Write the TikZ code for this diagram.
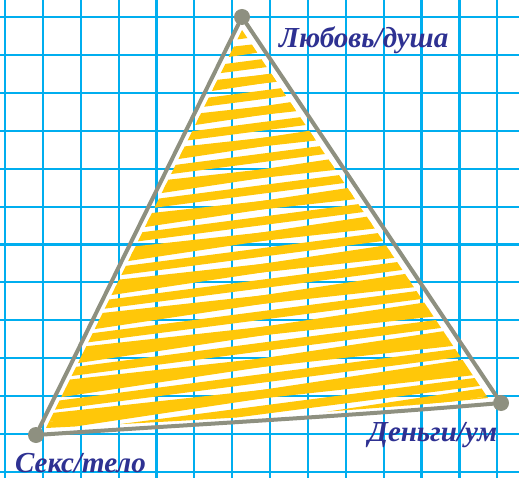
\documentclass[tikz,border=0pt]{standalone}
\usepackage{fontspec}
\setmainfont{Liberation Serif}
\definecolor{gridc}{HTML}{00AEEF}
\definecolor{edgec}{HTML}{8E9080}
\definecolor{hatchc}{HTML}{FFC709}
\definecolor{labc}{HTML}{2E3192}
\tikzset{
  gridline/.style={gridc, line width=2.2pt},
  hatchline/.style={hatchc, line width=8.5pt, line cap=round},
  edge/.style={edgec, line width=4pt, line cap=round, line join=round},
  vdot/.style={circle, fill=edgec, inner sep=0pt, minimum size=16pt},
  lab/.style={text=labc, font=\fontsize{29}{33}\selectfont\bfseries\itshape, inner sep=0pt}
}
\begin{document}
\begin{tikzpicture}[x=1pt,y=-1pt]
\useasboundingbox (0,0) rectangle (519,478);
\fill[white] (0,0) rectangle (519,478);
\foreach \i in {0,...,13} \draw[gridline] ({5+37.87*\i},0) -- ({5+37.87*\i},478);
\foreach \i in {0,...,12} \draw[gridline] (0,{17.3+37.87*\i}) -- (519,{17.3+37.87*\i});
\coordinate (pA) at (242,17);
\coordinate (pB) at (36,435);
\coordinate (pC) at (501,403);
\begin{scope}
  \clip (242,30) -- (46,428) .. controls (200,420) and (350,412) .. (488,398) -- cycle;
  \foreach \k in {0,...,44} {
    \pgfmathsetmacro{\s}{mod(\k,3)==0 ? 0.11 : (mod(\k,3)==1 ? 0.15 : 0.13)}
    \draw[hatchline] (0,{45+10.5*\k}) -- (519,{45+10.5*\k-\s*519});
  }
\end{scope}
\node[vdot] (A) at (pA) {};
\node[vdot] (B) at (pB) {};
\node[vdot] (C) at (pC) {};
\draw[edge] (A) -- (B);
\draw[edge] (B) .. controls (200,424) and (350,416) .. (C);
\draw[edge] (C) -- (A);
\node[lab, anchor=west] (lA) at (279,40) {Любовь/душа};
\node[lab, anchor=west] (lB) at (15,463) {Секс/тело};
\node[lab, anchor=west] (lC) at (368,435) {Деньги/ум};
\end{tikzpicture}
\end{document}
